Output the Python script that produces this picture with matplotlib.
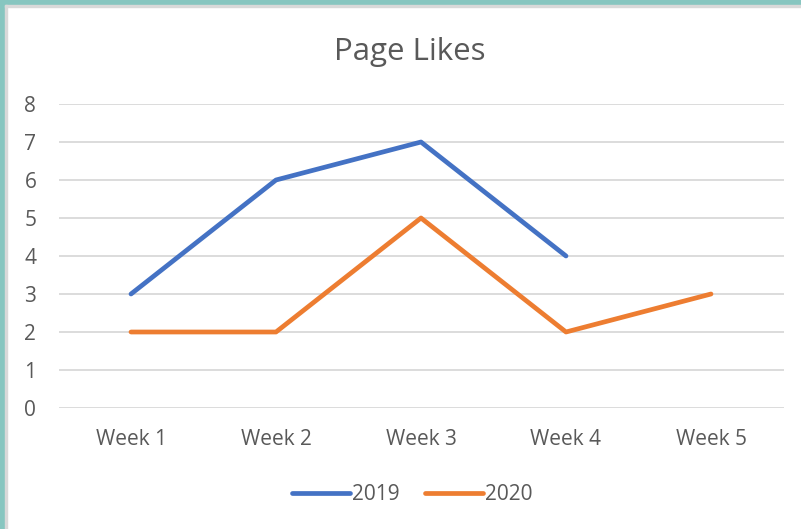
import numpy as np
import matplotlib.pyplot as plt
from matplotlib.patches import Rectangle

weeks = ['Week 1', 'Week 2', 'Week 3', 'Week 4', 'Week 5']
likes_2019 = [3, 6, 7, 4, np.nan]
likes_2020 = [2, 2, 5, 2, 3]

plt.rcParams['font.family'] = ['Open Sans', 'DejaVu Sans']
txt = '#595959'

fig = plt.figure(figsize=(8.01, 5.29), dpi=100)
W, H = 801, 529

# teal frame on the left and top, with a thin grey inner line
fig.patches.append(Rectangle((0, 0), 5 / W, 1, transform=fig.transFigure, color='#87C6C0', zorder=0))
fig.patches.append(Rectangle((0, 1 - 5 / H), 1, 5 / H, transform=fig.transFigure, color='#87C6C0', zorder=0))
fig.patches.append(Rectangle((5 / W, 0), 2 / W, 1 - 5 / H, transform=fig.transFigure, color='#D9D9D9', zorder=0))
fig.patches.append(Rectangle((5 / W, 1 - 7 / H), 1, 2 / H, transform=fig.transFigure, color='#D9D9D9', zorder=0))

ax = fig.add_axes([58.5 / W, 1 - 408 / H, 725 / W, 304 / H])
x = np.arange(len(weeks))
ax.plot(x, likes_2019, color='#4472C4', lw=3.4, solid_capstyle='round', label='2019')
ax.plot(x, likes_2020, color='#ED7D31', lw=3.4, solid_capstyle='round', label='2020')

ax.set_xlim(-0.5, 4.5)
ax.set_ylim(0, 8)
ax.set_yticks(range(9))
ax.set_xticks(x)
ax.set_xticklabels(weeks)
ax.grid(axis='y', color='#D9D9D9', lw=1.3)
ax.set_axisbelow(True)
for s in ax.spines.values():
    s.set_visible(False)
ax.tick_params(length=0, labelsize=15, labelcolor=txt)
ax.tick_params(axis='x', pad=15)
ax.tick_params(axis='y', pad=16)

fig.text(410 / W, 1 - 52 / H, 'Page Likes', ha='center', va='center', fontsize=22.5, color=txt)
fig.legend(loc='center', bbox_to_anchor=(412 / W, 1 - 495 / H), ncol=2, frameon=False,
           fontsize=15, labelcolor=txt, handlelength=2.8, handletextpad=0.1, columnspacing=1.2)

fig.savefig('out.png', dpi=100)
